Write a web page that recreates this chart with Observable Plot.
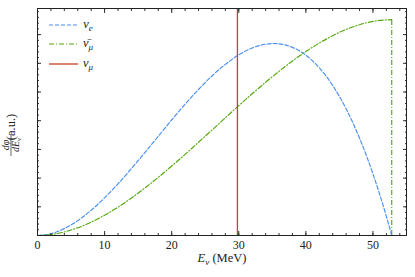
<!DOCTYPE html>
<html>
<head>
<meta charset="utf-8">
<script src="https://cdn.jsdelivr.net/npm/d3@7"></script>
<script src="https://cdn.jsdelivr.net/npm/@observablehq/plot@0.6"></script>
<style>
  html, body { margin: 0; padding: 0; background: #fff; }
  #chart { width: 415px; height: 277px; }
</style>
</head>
<body>
<div id="chart"></div>
<script>
// nu_e spectrum (energy in MeV, arbitrary units)
const nueE = [0,2,4,6,8,10,12,14,16,18,20,22,24,26,28,30,32,34,35.2,36,38,40,42,44,46,48,50,51,52,52.8];
const nueV = [0,0.031,0.120,0.259,0.440,0.657,0.901,1.167,1.445,1.729,2.013,2.287,2.544,2.779,2.982,3.147,3.267,3.333,3.345,3.339,3.278,3.141,2.922,2.613,2.207,1.696,1.074,0.718,0.332,0];
// anti nu_mu spectrum
const numubarE = [0,2,4,6,8,10,12,14,16,18,20,22,24,26,28,30,32,34,36,38,40,42,44,46,48,50,52,52.8];
const numubarV = [0,0.016,0.062,0.135,0.233,0.354,0.494,0.653,0.827,1.013,1.210,1.414,1.624,1.837,2.050,2.262,2.469,2.670,2.860,3.040,3.205,3.352,3.481,3.590,3.673,3.730,3.756,3.760];
// monoenergetic nu_mu line
const numuE = [29.8];
// ticks
const xMajor = [0,10,20,30,40,50];
const xMinor = d3.range(0, 55, 2);
const yMajor = [0,0.5,1,1.5,2,2.5,3,3.5];
const yMinor = d3.range(0, 3.95, 0.1);

const colBlue = "#4a8ff0", colGreen = "#52a80a", colRed = "#c8401e";

const nue = nueE.map((e, i) => ({E: e, v: nueV[i]}));
const numubar = numubarE.map((e, i) => ({E: e, v: numubarV[i]}));
const endE = numubarE[numubarE.length - 1];
const endV = numubarV[numubarV.length - 1];

const tickColor = "#333";
const plot = Plot.plot({
  width: 415, height: 277,
  marginLeft: 37, marginRight: 9, marginTop: 8, marginBottom: 42,
  style: {fontFamily: "Liberation Serif", fontSize: "12px", background: "#fff", color: "#222", overflow: "visible"},
  x: {domain: [0, 55]},
  y: {domain: [0, 3.955]},
  marks: [
    Plot.line(nue, {x: "E", y: "v", stroke: colBlue, strokeWidth: 1.15, strokeDasharray: "4,2", curve: "monotone-x"}),
    Plot.line(numubar, {x: "E", y: "v", stroke: colGreen, strokeWidth: 1.15, strokeDasharray: "5,2,1,2", curve: "monotone-x"}),
    Plot.ruleX([endE], {y1: 0, y2: endV, stroke: colGreen, strokeWidth: 1.15, strokeDasharray: "5,2,1,2"}),
    Plot.ruleX(numuE, {stroke: colRed, strokeWidth: 1.3}),
    Plot.axisX(xMajor, {anchor: "bottom", tickSize: -4, tickPadding: 9, stroke: tickColor, label: null, fontSize: 12}),
    Plot.axisX(xMinor, {anchor: "bottom", tickSize: -2, tickFormat: () => "", stroke: tickColor, label: null}),
    Plot.axisX(xMajor, {anchor: "top", tickSize: -4, tickFormat: () => "", stroke: tickColor, label: null}),
    Plot.axisX(xMinor, {anchor: "top", tickSize: -2, tickFormat: () => "", stroke: tickColor, label: null}),
    Plot.axisY(yMajor, {anchor: "left", tickSize: -4, tickFormat: () => "", stroke: tickColor, label: null}),
    Plot.axisY(yMinor, {anchor: "left", tickSize: -2, tickFormat: () => "", stroke: tickColor, label: null}),
    Plot.axisY(yMajor, {anchor: "right", tickSize: -4, tickFormat: () => "", stroke: tickColor, label: null}),
    Plot.axisY(yMinor, {anchor: "right", tickSize: -2, tickFormat: () => "", stroke: tickColor, label: null}),
    Plot.frame({stroke: "#222", strokeWidth: 1})
  ]
});
document.getElementById("chart").appendChild(plot);

const svg = d3.select(plot);
const ff = "Liberation Serif";

// Legend
const legend = [
  {main: "ν", sub: "e", col: colBlue, dash: "4,2", y: 25},
  {main: "ν\u0304", sub: "μ", col: colGreen, dash: "5,2,1,2", y: 44},
  {main: "ν", sub: "μ", col: colRed, dash: null, y: 64}
];
const lg = svg.append("g");
legend.forEach(d => {
  lg.append("line").attr("x1", 49).attr("x2", 78).attr("y1", d.y).attr("y2", d.y)
    .attr("stroke", d.col).attr("stroke-width", d.dash ? 1.15 : 1.3)
    .attr("stroke-dasharray", d.dash);
  const t = lg.append("text").attr("x", 88).attr("y", d.y + 3)
    .attr("font-family", ff).attr("font-size", 12.5).attr("font-style", "italic").attr("fill", "#222");
  t.append("tspan").text(d.main);
  t.append("tspan").attr("dy", 3).attr("font-size", 9).text(d.sub);
});

// X label
const xl = svg.append("text").attr("x", 222).attr("y", 262).attr("text-anchor", "middle")
  .attr("font-family", ff).attr("font-size", 12.5).attr("fill", "#222");
xl.append("tspan").attr("font-style", "italic").text("E");
xl.append("tspan").attr("font-style", "italic").attr("font-size", 9).attr("dy", 3).text("ν");
xl.append("tspan").attr("dy", -3).text(" (MeV)");

// Y label (rotated fraction), each piece placed with its own transform
const yg = svg.append("g").attr("font-family", ff).attr("fill", "#222");
yg.append("text").attr("transform", "translate(8.5,145) rotate(-90)")
  .attr("text-anchor", "middle").attr("font-size", 10).attr("font-style", "italic").text("dφ");
yg.append("line").attr("x1", 11).attr("x2", 11).attr("y1", 134).attr("y2", 156)
  .attr("stroke", "#222").attr("stroke-width", 0.7);
const den = yg.append("text").attr("transform", "translate(19,145) rotate(-90)")
  .attr("text-anchor", "middle").attr("font-size", 10).attr("font-style", "italic");
den.append("tspan").text("dE");
den.append("tspan").attr("font-size", 7).attr("dy", 2).text("ν");
yg.append("text").attr("transform", "translate(15,127) rotate(-90)")
  .attr("font-size", 12.5).text("(a.u.)");
</script>
</body>
</html>
